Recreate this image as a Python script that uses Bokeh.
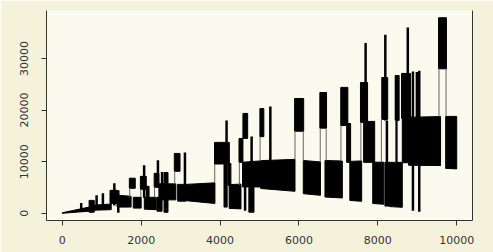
from bokeh.plotting import figure
from bokeh.models import LinearAxis, FixedTicker, Range1d
from bokeh.embed import file_html
from bokeh.resources import INLINE

# ---- data (envelope blocks of the dense zig-zag line) ----
blk_x0 = [0, 680, 780, 1210, 1390, 1700, 1800, 1980, 2080, 2130, 2330, 2400, 2580, 2450, 2840,
          2925, 3135, 3860, 4100, 4200, 4230, 4480, 4580, 4570, 4730, 5010, 5030, 5890, 6110,
          6530, 6660, 7060, 7210, 7290, 7560, 7640, 7870, 8100, 8180, 8300, 8440, 8600, 8620,
          8780, 9540, 9720]
blk_x1 = [680, 810, 1240, 1390, 1745, 1850, 2000, 2130, 2380, 2200, 2450, 2530, 2680, 2880, 2985,
          3135, 3870, 4235, 4180, 4275, 4530, 4580, 4700, 5035, 4860, 5110, 5900, 6120, 6545,
          6700, 7100, 7240, 7310, 7590, 7740, 7920, 8150, 8250, 8320, 8620, 8540, 8830, 8880,
          9590, 9740, 10000]
blk_lo0 = [0, 200, 600, 1900, 1200, 4840, 1000, 4650, 800, 3100, 5030, 400, 200, 2600, 8130,
           2350, 2450, 9550, 1200, 5420, 950, 9870, 14500, 5100, 200, 14850, 4800, 15900, 3800,
           16500, 3150, 17000, 9870, 2500, 17600, 9870, 1900, 18200, 1400, 1300, 18000, 18400, 9800,
           9300, 28000, 8700]
blk_lo1 = [400, 200, 700, 1900, 1200, 4840, 1000, 4650, 700, 3100, 5030, 400, 200, 2600, 8130,
           2350, 1900, 9550, 1200, 5420, 850, 9870, 14500, 5100, 200, 14850, 4260, 15900, 3480,
           16500, 2970, 17000, 9870, 2320, 17600, 9870, 1750, 18200, 1400, 1150, 18000, 18400, 9800,
           9250, 28000, 8600]
blk_hi0 = [100, 2500, 1550, 4450, 3500, 6800, 3100, 7160, 3100, 5230, 7740, 3100, 7900, 5700, 11600,
           5600, 5600, 13740, 9480, 9670, 5550, 14500, 19350, 9900, 5030, 20300, 10200, 22250, 10230,
           23400, 10230, 24400, 17400, 10050, 25350, 17800, 9900, 26300, 9870, 9870, 26700, 27100, 18650,
           18600, 37900, 18770]
blk_hi1 = [1200, 2500, 1800, 4450, 3300, 6800, 3100, 7160, 3100, 5230, 7740, 3100, 7900, 5700, 11600,
           5600, 5900, 13740, 9480, 9670, 5650, 14500, 19350, 10150, 5030, 20300, 10450, 22250, 9950,
           23400, 10130, 24400, 17400, 10150, 25350, 17800, 9900, 26300, 9870, 9870, 26700, 27100, 18650,
           18750, 37900, 18770]

# tall thin excursions
spk_x = [480, 870, 1030, 1320, 1420, 2075, 2425, 2530, 2630, 3110, 4165, 4635, 4800, 5275,
         7690, 8190, 8230, 8470, 8760, 8890, 8990, 9050]
spk_y0 = [300, 800, 800, 1500, 100, 3000, 5100, 3000, 3000, 5500, 9600, 500, 300, 10200,
          17000, 18000, 1400, 9800, 18000, 500, 9500, 300]
spk_y1 = [2000, 3500, 3900, 5800, 4450, 9300, 10260, 8000, 8000, 11800, 18000, 9900, 14900, 20700,
          33000, 34600, 18000, 26700, 36000, 27500, 27400, 27600]

# single-stroke connections seen inside the white gaps
lnk_x = [1710, 1990, 2340, 2850, 3865, 4490, 5015, 5900, 6110, 6540, 6690, 7065, 7570, 8090,
         8450, 9550, 9730]
lnk_y0 = [3100, 3100, 3100, 5600, 5900, 5500, 10100, 10450, 10230, 9950, 10230, 10130, 10150, 9900,
          9870, 18750, 18770]
lnk_y1 = [4840, 4650, 5030, 8130, 9550, 9870, 14850, 15900, 15900, 16500, 16500, 17000, 17600, 18200,
          18000, 28000, 28000]

x_ticks = [0, 2000, 4000, 6000, 8000, 10000]
y_ticks = [0, 10000, 20000, 30000]

# ---- figure ----
p = figure(width=493, height=252, output_backend="svg", toolbar_location=None,
           x_range=Range1d(-400, 10400), y_range=Range1d(-1400, 39300),
           x_axis_location=None, y_axis_location=None,
           min_border_left=46, min_border_right=21, min_border_top=10, min_border_bottom=32)
p.background_fill_color = "#fafaef"
p.border_fill_color = "#f5f2dc"
p.outline_line_color = None
p.grid.visible = False

xs = [[a, b, b, a] for a, b in zip(blk_x0, blk_x1)]
ys = [[l0, l1, h1, h0] for l0, l1, h0, h1 in zip(blk_lo0, blk_lo1, blk_hi0, blk_hi1)]
p.patches(xs, ys, fill_color="black", line_color="black", line_width=1)
p.segment(x0=spk_x, y0=spk_y0, x1=spk_x, y1=spk_y1, line_color="black", line_width=2.5)
p.segment(x0=lnk_x, y0=lnk_y0, x1=lnk_x, y1=lnk_y1, line_color="#666666", line_width=1)

def style(ax):
    ax.axis_line_color = "#333333"
    ax.axis_line_width = 1
    ax.major_tick_line_color = "#333333"
    ax.major_tick_out = 5
    ax.major_tick_in = 0
    ax.minor_tick_line_color = None
    ax.major_label_text_font = "DejaVu Sans"
    ax.major_label_text_font_size = "11px"
    ax.major_label_text_color = "#333333"

xa = LinearAxis(ticker=FixedTicker(ticks=x_ticks))
style(xa)
xa.major_label_standoff = 10
p.add_layout(xa, "below")

ya = LinearAxis(ticker=FixedTicker(ticks=y_ticks))
style(ya)
ya.major_label_orientation = "vertical"
ya.major_label_standoff = 13
p.add_layout(ya, "left")

ra = LinearAxis(ticker=FixedTicker(ticks=[]))
ra.axis_line_color = "#333333"
ra.major_tick_line_color = None
ra.minor_tick_line_color = None
ra.major_label_text_font_size = "0px"
p.add_layout(ra, "right")

open("out.html", "w").write(file_html(p, INLINE))
